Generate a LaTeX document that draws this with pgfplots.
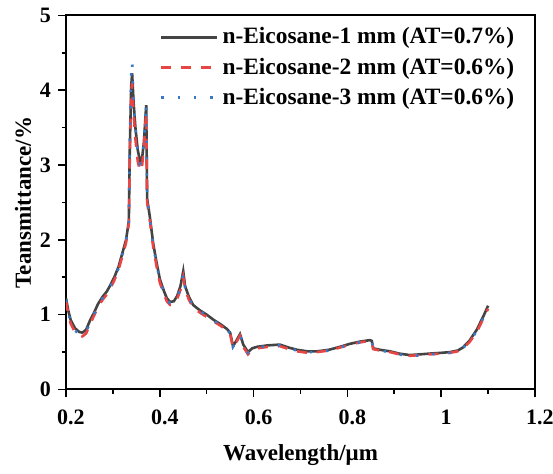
\documentclass[border=0pt]{standalone}
\usepackage{fontspec}
\setmainfont{Liberation Serif}
\usepackage{pgfplots}
\pgfplotsset{compat=1.18}
\definecolor{cblack}{HTML}{444444}
\definecolor{cred}{HTML}{E84545}
\definecolor{cblue}{HTML}{3A78C8}
\begin{document}
\begin{tikzpicture}
\begin{axis}[
  scale only axis,
  width=234.5pt, height=187pt,
  xmin=0.2, xmax=1.2, ymin=0, ymax=5,
  xtick={0.2,0.4,0.6,0.8,1,1.2},
  xticklabels={0.2,0.4,0.6,0.8,1,1.2},
  ytick={0,1,2,3,4,5},
  minor x tick num=1, minor y tick num=1,
  tick align=outside,
  xtick pos=bottom, ytick pos=left,
  major tick length=4pt, minor tick length=2.2pt,
  every tick/.style={black, line width=0.8pt},
  axis line style={line width=1pt},
  /pgf/number format/assume math mode=true,
  tick label style={font=\fontsize{11}{12}\selectfont\bfseries},
  xticklabel style={yshift=-2.5pt, xshift=2.5pt},
  label style={font=\fontsize{11.5}{13}\selectfont\bfseries},
  xlabel={Wavelength/μm},
  ylabel={Teansmittance/\%},
  xlabel style={yshift=-3pt},
  ylabel style={yshift=-2.5pt},
  legend style={draw=none, fill=none, at={(0.978,0.99)}, anchor=north east,
    font=\fontsize{11.7}{13}\selectfont\bfseries, row sep=1.5pt,
    /tikz/every even column/.append style={column sep=3pt}},
  legend cell align=left,
  legend image code/.code={\draw[#1] (0pt,0pt) -- (28pt,0pt);},
]
\coordinate (sw) at (rel axis cs:0,0);
\coordinate (ne) at (rel axis cs:1,1);
\addplot[cblack, line width=1.3pt] coordinates {
(0.200,1.22) (0.205,1.05) (0.210,0.93) (0.219,0.82) (0.228,0.77) (0.235,0.76)
(0.243,0.80) (0.251,0.92) (0.260,1.03) (0.268,1.14) (0.278,1.24) (0.287,1.31)
(0.295,1.40) (0.303,1.50) (0.312,1.64) (0.320,1.82) (0.328,2.00) (0.334,2.25)
(0.336,3.20) (0.339,4.05) (0.341,4.23) (0.344,3.85) (0.348,3.50) (0.353,3.20)
(0.358,3.05) (0.362,3.08) (0.366,3.30) (0.369,3.60) (0.371,3.80) (0.373,2.55)
(0.379,2.30) (0.386,1.95) (0.393,1.70) (0.400,1.48) (0.408,1.33) (0.415,1.22)
(0.422,1.17) (0.430,1.18) (0.437,1.25) (0.444,1.38) (0.450,1.58) (0.454,1.38)
(0.462,1.24) (0.471,1.13) (0.485,1.06) (0.500,1.00) (0.515,0.93) (0.530,0.87)
(0.543,0.81) (0.550,0.76) (0.556,0.58) (0.563,0.65) (0.571,0.74) (0.578,0.60)
(0.588,0.50) (0.597,0.55) (0.607,0.57) (0.630,0.59) (0.656,0.60) (0.675,0.56)
(0.693,0.53) (0.715,0.51) (0.735,0.51) (0.760,0.53) (0.784,0.57) (0.805,0.61)
(0.827,0.64) (0.848,0.66) (0.852,0.65) (0.855,0.55) (0.870,0.53) (0.891,0.51)
(0.910,0.48) (0.933,0.46) (0.955,0.47) (0.976,0.48) (1.000,0.49) (1.019,0.50)
(1.035,0.52) (1.046,0.56) (1.060,0.65) (1.076,0.80) (1.090,0.98) (1.100,1.12)
};
\addlegendentry{n-Eicosane-1 mm (AT=0.7\%)}
\addplot[cred, line width=1.3pt, dash pattern=on 5pt off 5pt] coordinates {
(0.200,1.18) (0.205,1.00) (0.210,0.88) (0.219,0.77) (0.228,0.72) (0.235,0.71)
(0.243,0.75) (0.251,0.87) (0.260,0.99) (0.268,1.10) (0.278,1.20) (0.287,1.27)
(0.295,1.36) (0.303,1.46) (0.312,1.60) (0.320,1.78) (0.328,1.96) (0.334,2.22)
(0.336,3.10) (0.339,3.95) (0.341,4.10) (0.344,3.70) (0.348,3.35) (0.353,3.05)
(0.358,2.92) (0.362,2.98) (0.366,3.22) (0.369,3.52) (0.371,3.70) (0.373,2.50)
(0.379,2.25) (0.386,1.90) (0.393,1.65) (0.400,1.43) (0.408,1.29) (0.415,1.18)
(0.422,1.13) (0.430,1.14) (0.437,1.21) (0.444,1.33) (0.450,1.50) (0.454,1.34)
(0.462,1.20) (0.471,1.10) (0.485,1.03) (0.500,0.97) (0.515,0.91) (0.530,0.85)
(0.543,0.79) (0.550,0.74) (0.556,0.56) (0.563,0.63) (0.571,0.72) (0.578,0.57)
(0.588,0.47) (0.597,0.53) (0.607,0.55) (0.630,0.57) (0.656,0.58) (0.675,0.54)
(0.693,0.51) (0.715,0.49) (0.735,0.50) (0.760,0.52) (0.784,0.56) (0.805,0.60)
(0.827,0.63) (0.848,0.65) (0.852,0.64) (0.855,0.54) (0.870,0.52) (0.891,0.50)
(0.910,0.47) (0.933,0.45) (0.955,0.46) (0.976,0.47) (1.000,0.48) (1.019,0.49)
(1.035,0.51) (1.046,0.55) (1.060,0.63) (1.076,0.77) (1.090,0.95) (1.100,1.08)
};
\addlegendentry{n-Eicosane-2 mm (AT=0.6\%)}
\addplot[cblue, line width=1.3pt, dash pattern=on 1.2pt off 7pt] coordinates {
(0.200,1.20) (0.205,1.02) (0.210,0.90) (0.219,0.79) (0.228,0.74) (0.235,0.73)
(0.243,0.77) (0.251,0.89) (0.260,1.01) (0.268,1.12) (0.278,1.22) (0.287,1.29)
(0.295,1.38) (0.303,1.48) (0.312,1.62) (0.320,1.80) (0.328,1.98) (0.334,2.24)
(0.336,3.30) (0.339,4.25) (0.341,4.38) (0.344,3.90) (0.348,3.50) (0.353,3.18)
(0.358,3.02) (0.362,3.06) (0.366,3.30) (0.369,3.62) (0.371,3.82) (0.373,2.55)
(0.379,2.28) (0.386,1.93) (0.393,1.68) (0.400,1.46) (0.408,1.31) (0.415,1.20)
(0.422,1.15) (0.430,1.16) (0.437,1.23) (0.444,1.36) (0.450,1.55) (0.454,1.36)
(0.462,1.22) (0.471,1.12) (0.485,1.05) (0.500,0.99) (0.515,0.92) (0.530,0.86)
(0.543,0.80) (0.550,0.75) (0.556,0.57) (0.563,0.64) (0.571,0.73) (0.578,0.59)
(0.588,0.49) (0.597,0.54) (0.607,0.56) (0.630,0.58) (0.656,0.59) (0.675,0.55)
(0.693,0.52) (0.715,0.50) (0.735,0.50) (0.760,0.52) (0.784,0.56) (0.805,0.60)
(0.827,0.63) (0.848,0.66) (0.852,0.65) (0.855,0.55) (0.870,0.52) (0.891,0.50)
(0.910,0.47) (0.933,0.44) (0.955,0.46) (0.976,0.47) (1.000,0.48) (1.019,0.49)
(1.035,0.51) (1.046,0.55) (1.060,0.64) (1.076,0.78) (1.090,0.96) (1.100,1.10)
};
\addlegendentry{n-Eicosane-3 mm (AT=0.6\%)}
\end{axis}
\pgfresetboundingbox
\path ([xshift=-33pt,yshift=-42.25pt]sw) rectangle ([xshift=9pt,yshift=7.75pt]ne);
\end{tikzpicture}
\end{document}
